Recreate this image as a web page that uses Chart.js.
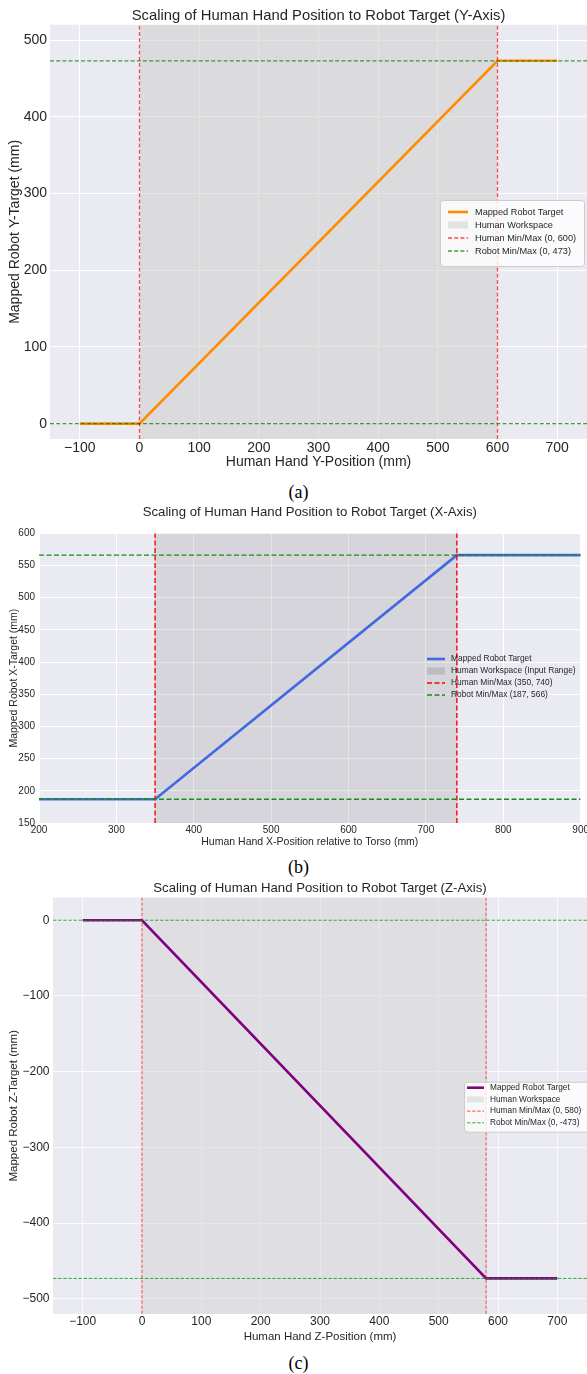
<!DOCTYPE html>
<html>
<head>
<meta charset="utf-8">
<script src="https://cdn.jsdelivr.net/npm/chart.js@4.4.0/dist/chart.umd.min.js"></script>
<style>
  html, body { margin: 0; padding: 0; background: #fff; width: 587px; height: 1374px; overflow: hidden; position: relative; }
  .holder { position: absolute; left: 0; }
  .cap { position: absolute; left: 0; width: 597px; text-align: center; line-height: 20px;
         font-family: "Liberation Serif", "Times New Roman", serif; font-size: 18px; color: #000; }
</style>
</head>
<body>
<div class="holder" style="top:0px"><canvas id="chartY" width="587" height="471"></canvas></div>
<div class="cap" style="top:482px">(a)</div>
<div class="holder" style="top:495px"><canvas id="chartX" width="590" height="354"></canvas></div>
<div class="cap" style="top:857px">(b)</div>
<div class="holder" style="top:875px"><canvas id="chartZ" width="587" height="469"></canvas></div>
<div class="cap" style="top:1353px">(c)</div>

<script>
// (a) Y axis
const yHumanPos = [-100, 0, 600, 700];
const yRobotTarget = [0, 0, 473, 473];
const yHumanMinMax = [0, 600];
const yRobotMinMax = [0, 473];
const yChartXTicks = [-100, 0, 100, 200, 300, 400, 500, 600, 700];
const yChartYTicks = [0, 100, 200, 300, 400, 500];

// (b) X axis
const xHumanPos = [200, 350, 740, 900];
const xRobotTarget = [187, 187, 566, 566];
const xHumanMinMax = [350, 740];
const xRobotMinMax = [187, 566];
const xChartXTicks = [200, 300, 400, 500, 600, 700, 800, 900];
const xChartYTicks = [150, 200, 250, 300, 350, 400, 450, 500, 550, 600];

// (c) Z axis
const zHumanPos = [-100, 0, 580, 700];
const zRobotTarget = [0, 0, -473, -473];
const zHumanMinMax = [0, 580];
const zRobotMinMax = [0, -473];
const zChartXTicks = [-100, 0, 100, 200, 300, 400, 500, 600, 700];
const zChartYTicks = [-500, -400, -300, -200, -100, 0];

const FONT = '"Liberation Sans", Arial, sans-serif';
const TXT = '#262626';

function pts(xs, ys) {
    return xs.map((x, i) => ({x: x, y: ys[i]}));
}

function minus(v) {
    return v < 0 ? '\u2212' + Math.abs(v) : String(v);
}

const areaBg = {
    id: 'areaBg',
    beforeDraw(chart) {
        const a = chart.chartArea;
        chart.ctx.save();
        chart.ctx.fillStyle = '#EAEAF2';
        chart.ctx.fillRect(a.left, a.top, a.right - a.left, a.bottom - a.top);
        chart.ctx.restore();
    }
};

const refLegend = {
    id: 'refLegend',
    afterDatasetsDraw(chart, args, o) {
        const ctx = chart.ctx;
        ctx.save();
        if (o.frame) {
            ctx.beginPath();
            ctx.roundRect(o.frame[0] + 0.5, o.frame[1] + 0.5, o.frame[2], o.frame[3], 3);
            ctx.fillStyle = 'rgba(255,255,255,0.8)';
            ctx.fill();
            ctx.strokeStyle = '#cccccc';
            ctx.lineWidth = 1;
            ctx.stroke();
        }
        ctx.font = o.size + 'px ' + FONT;
        ctx.textBaseline = 'middle';
        o.items.forEach((it, i) => {
            const y = o.y0 + i * o.dy;
            if (it.patch) {
                ctx.fillStyle = it.color;
                ctx.fillRect(o.sx1, y - o.ph / 2, o.sx2 - o.sx1, o.ph);
            } else {
                ctx.beginPath();
                ctx.strokeStyle = it.color;
                ctx.lineWidth = it.width;
                ctx.setLineDash(it.dash || []);
                ctx.moveTo(o.sx1, y);
                ctx.lineTo(o.sx2, y);
                ctx.stroke();
                ctx.setLineDash([]);
            }
            ctx.fillStyle = TXT;
            ctx.fillText(it.text, o.tx, y);
        });
        ctx.restore();
    }
};

function buildChart(id, s) {
    const datasets = [];
    datasets.push({
        data: [{x: s.human[0], y: s.yMax}, {x: s.human[1], y: s.yMax}],
        fill: 'start', backgroundColor: s.wsColor, borderWidth: 0, pointRadius: 0, order: 3
    });
    datasets.push({
        data: pts(s.xs, s.ys), borderColor: s.lineColor, borderWidth: s.lineWidth,
        pointRadius: 0, fill: false, order: 2
    });
    s.human.forEach(h => datasets.push({
        data: [{x: h, y: s.yMin}, {x: h, y: s.yMax}], borderColor: s.red,
        borderWidth: s.dashWidth, borderDash: s.dash, pointRadius: 0, fill: false, order: 1
    }));
    s.robot.forEach(r => datasets.push({
        data: [{x: s.xMin, y: r}, {x: s.xMax, y: r}], borderColor: s.green,
        borderWidth: s.dashWidth, borderDash: s.dash, pointRadius: 0, fill: false, order: 0
    }));

    const legendItems = [
        {text: 'Mapped Robot Target', color: s.lineColor, width: s.lineWidth},
        {text: s.wsLabel, patch: true, color: s.wsLegendColor},
        {text: 'Human Min/Max (' + s.human.join(', ') + ')', color: s.red, width: s.dashWidth, dash: s.dash},
        {text: 'Robot Min/Max (' + s.robot.join(', ') + ')', color: s.green, width: s.dashWidth, dash: s.dash}
    ];

    new Chart(document.getElementById(id).getContext('2d'), {
        type: 'line',
        data: {datasets: datasets},
        plugins: [areaBg, refLegend],
        options: {
            responsive: false,
            animation: false,
            devicePixelRatio: 1,
            layout: {padding: 0},
            plugins: {
                legend: {display: false},
                tooltip: {enabled: false},
                title: {
                    display: true, text: s.title, color: TXT, fullSize: false,
                    font: {family: FONT, size: s.titleSize, weight: 'normal'},
                    padding: {top: s.titlePad[0], bottom: s.titlePad[1]}
                },
                refLegend: Object.assign({items: legendItems}, s.legend)
            },
            scales: {
                x: {
                    type: 'linear', min: s.xMin, max: s.xMax,
                    afterBuildTicks: sc => { sc.ticks = s.xTicks.map(v => ({value: v})); },
                    afterFit: sc => { sc.height = s.xAxisH; },
                    grid: {color: '#ffffff', lineWidth: s.gridW, drawTicks: false},
                    border: {display: false},
                    ticks: {
                        font: {family: FONT, size: s.tickSize}, color: TXT, padding: s.xTickPad,
                        maxRotation: 0, autoSkip: false, callback: v => minus(v)
                    },
                    title: {
                        display: true, text: s.xTitle, color: TXT,
                        font: {family: FONT, size: s.axisTitleSize},
                        padding: {top: 0, bottom: s.xTitlePad}
                    }
                },
                y: {
                    type: 'linear', min: s.yMin, max: s.yMax,
                    afterBuildTicks: sc => { sc.ticks = s.yTicks.map(v => ({value: v})); },
                    afterFit: sc => { sc.width = s.yAxisW; },
                    grid: {color: '#ffffff', lineWidth: s.gridW, drawTicks: false},
                    border: {display: false},
                    ticks: {
                        font: {family: FONT, size: s.tickSize}, color: TXT, padding: s.yTickPad,
                        autoSkip: false, callback: v => minus(v)
                    },
                    title: {
                        display: true, text: s.yTitle, color: TXT,
                        font: {family: FONT, size: s.axisTitleSize},
                        padding: {top: s.yTitlePad, bottom: 0}
                    }
                }
            }
        }
    });
}

buildChart('chartY', {
    title: 'Scaling of Human Hand Position to Robot Target (Y-Axis)',
    xTitle: 'Human Hand Y-Position (mm)', yTitle: 'Mapped Robot Y-Target (mm)',
    xs: yHumanPos, ys: yRobotTarget, human: yHumanMinMax, robot: yRobotMinMax,
    xTicks: yChartXTicks, yTicks: yChartYTicks,
    xMin: -150, xMax: 750, yMin: -20, yMax: 520,
    lineColor: '#FF8C00', lineWidth: 2.6,
    red: 'rgba(255,0,0,0.7)', green: 'rgba(0,128,0,0.75)', dashWidth: 1.3, dash: [4, 2.2],
    wsColor: 'rgba(205,205,205,0.55)', wsLegendColor: 'rgba(211,211,211,0.6)', wsLabel: 'Human Workspace',
    titleSize: 14.8, titlePad: [7, 0], tickSize: 14, axisTitleSize: 14,
    xAxisH: 32, yAxisW: 50, xTickPad: 1, yTickPad: 3, xTitlePad: 0, yTitlePad: 6.6, gridW: 1,
    legend: {frame: [440, 200, 144, 66], y0: 212, dy: 13, sx1: 448, sx2: 468, tx: 475, size: 9.2, ph: 7}
});

buildChart('chartX', {
    title: 'Scaling of Human Hand Position to Robot Target (X-Axis)',
    xTitle: 'Human Hand X-Position relative to Torso (mm)', yTitle: 'Mapped Robot X-Target (mm)',
    xs: xHumanPos, ys: xRobotTarget, human: xHumanMinMax, robot: xRobotMinMax,
    xTicks: xChartXTicks, yTicks: xChartYTicks,
    xMin: 200, xMax: 900, yMin: 150, yMax: 600,
    lineColor: '#4169E1', lineWidth: 2.6,
    red: '#FF0000', green: '#1a8a1a', dashWidth: 1.4, dash: [5, 2.5],
    wsColor: 'rgba(128,128,128,0.2)', wsLegendColor: 'rgba(128,128,128,0.3)', wsLabel: 'Human Workspace (Input Range)',
    titleSize: 13.2, titlePad: [9.5, 12.9], tickSize: 10, axisTitleSize: 10.5,
    xAxisH: 26, yAxisW: 39, xTickPad: 1, yTickPad: 4, xTitlePad: 0.7, yTitlePad: 7.7, gridW: 1,
    legend: {frame: null, y0: 164, dy: 12, sx1: 427, sx2: 445, tx: 451, size: 8.4, ph: 7}
});

buildChart('chartZ', {
    title: 'Scaling of Human Hand Position to Robot Target (Z-Axis)',
    xTitle: 'Human Hand Z-Position (mm)', yTitle: 'Mapped Robot Z-Target (mm)',
    xs: zHumanPos, ys: zRobotTarget, human: zHumanMinMax, robot: zRobotMinMax,
    xTicks: zChartXTicks, yTicks: zChartYTicks,
    xMin: -150, xMax: 750, yMin: -520, yMax: 30,
    lineColor: '#800080', lineWidth: 2.6,
    red: 'rgba(255,0,0,0.7)', green: 'rgba(0,160,0,0.8)', dashWidth: 1, dash: [3.5, 1.6],
    wsColor: 'rgba(211,211,211,0.5)', wsLegendColor: 'rgba(211,211,211,0.55)', wsLabel: 'Human Workspace',
    titleSize: 13.2, titlePad: [5.5, 1.2], tickSize: 12, axisTitleSize: 11.5,
    xAxisH: 30, yAxisW: 53, xTickPad: 0.5, yTickPad: 3.5, xTitlePad: 0.4, yTitlePad: 7.1, gridW: 0.8,
    legend: {frame: [464, 206.7, 130, 50], y0: 212.7, dy: 11.7, sx1: 467, sx2: 484, tx: 490, size: 8.3, ph: 6}
});
</script>
</body>
</html>
